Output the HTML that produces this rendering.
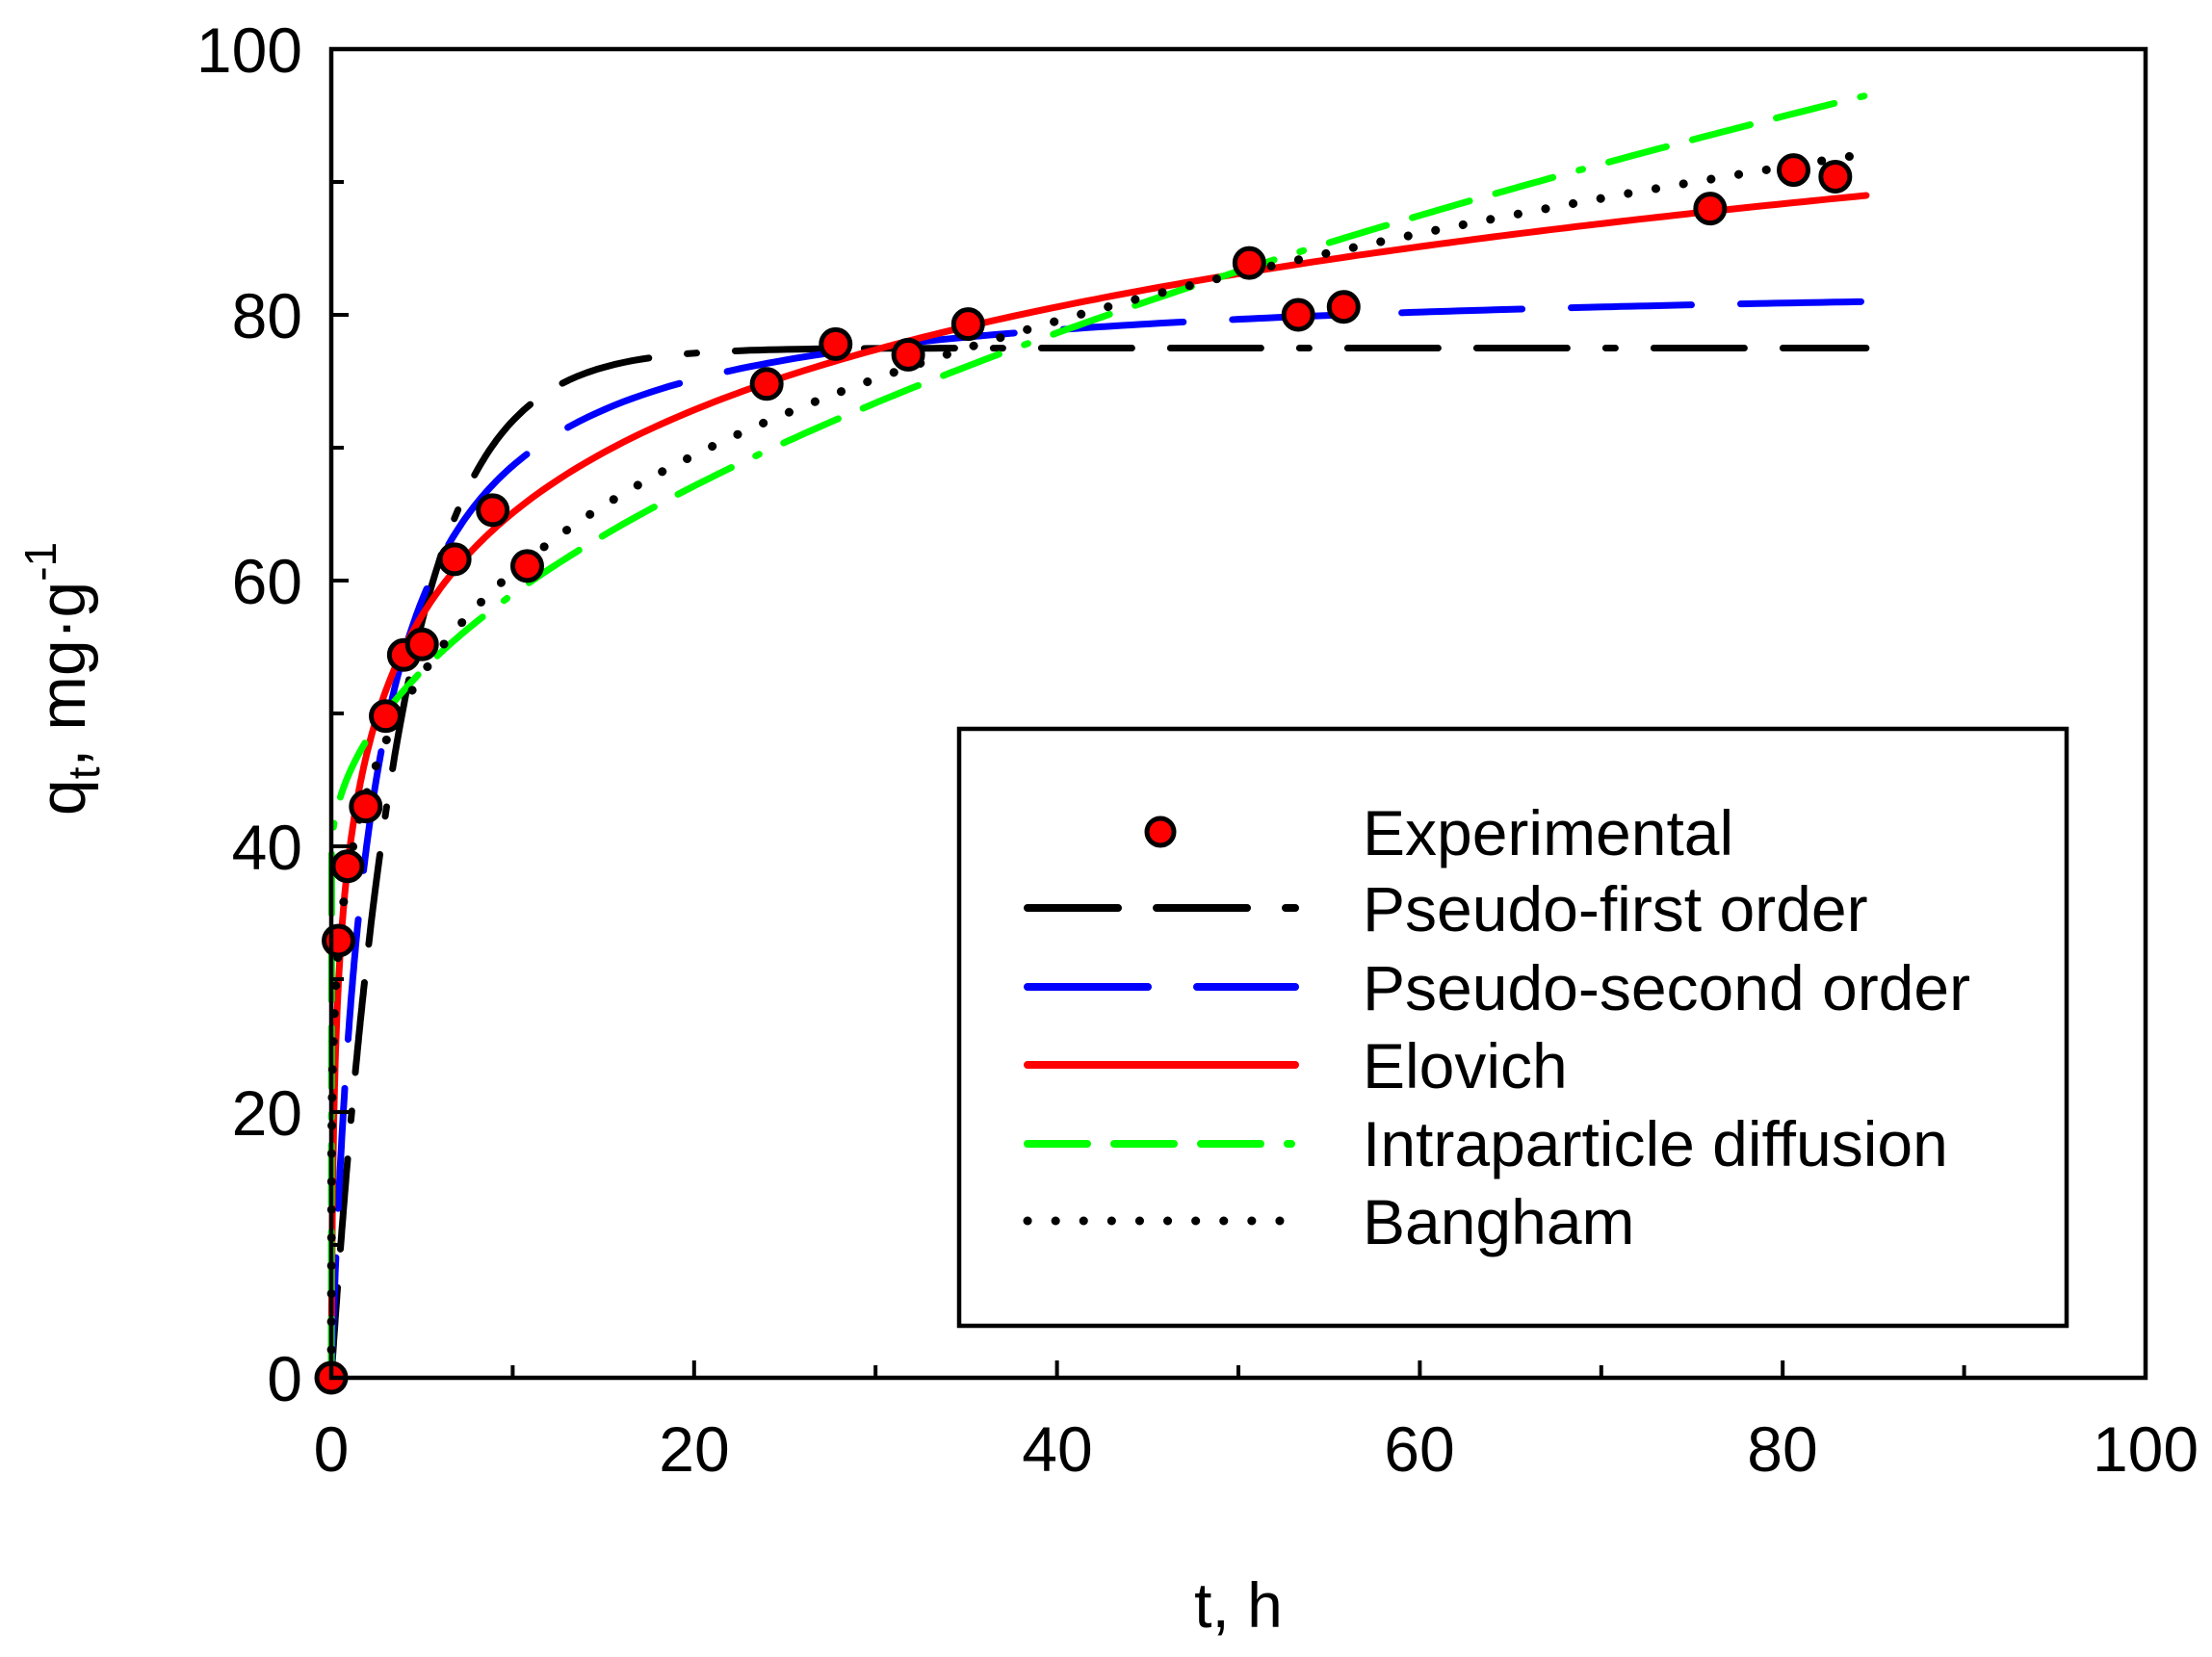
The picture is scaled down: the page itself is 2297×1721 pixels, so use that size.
<!DOCTYPE html>
<html><head><meta charset="utf-8"><style>
html,body{margin:0;padding:0;background:#fff;}
svg{display:block;font-family:"Liberation Sans",Arial,sans-serif;}
</style></head><body>
<svg id="s" width="2297" height="1721" viewBox="0 0 2297 1721" xmlns="http://www.w3.org/2000/svg">
<rect width="2297" height="1721" fill="#fff"/>
<g id="curves" fill="none" stroke-width="7" stroke-linecap="round" stroke-linejoin="round"></g>
<g id="pts"></g>
<rect x="344" y="51" width="1884" height="1380" fill="none" stroke="#000" stroke-width="4.5"/>
<g id="ticks" stroke="#000" stroke-width="4"></g>
<g font-size="66" fill="#000" text-anchor="end">
<text x="314" y="1455">0</text><text x="314" y="1179">20</text><text x="314" y="903">40</text>
<text x="314" y="627">60</text><text x="314" y="351">80</text><text x="314" y="75">100</text>
</g>
<g font-size="66" fill="#000" text-anchor="middle">
<text x="344" y="1528">0</text><text x="721" y="1528">20</text><text x="1098" y="1528">40</text>
<text x="1474" y="1528">60</text><text x="1851" y="1528">80</text><text x="2228" y="1528">100</text>
</g>
<text x="1286" y="1690" font-size="66" text-anchor="middle">t, h</text>
<g transform="translate(88,705) rotate(-90)"><text x="0" y="0" font-size="68" text-anchor="middle">q<tspan font-size="46" dy="15">t</tspan><tspan dy="-15">, mg·g</tspan><tspan font-size="46" dy="-30">-1</tspan></text></g>
<rect x="996" y="757" width="1150" height="620" fill="#fff" stroke="#000" stroke-width="4.5"/>
<g stroke-width="8" stroke-linecap="round" fill="none">
<line x1="1067" y1="943" x2="1345" y2="943" stroke="#000" stroke-dasharray="94 40 94 40 10 40"/>
<line x1="1067" y1="1025" x2="1345" y2="1025" stroke="#0000ff" stroke-dasharray="125 51"/>
<line x1="1067" y1="1106" x2="1345" y2="1106" stroke="#ff0000"/>
<line x1="1067" y1="1188" x2="1345" y2="1188" stroke="#00ff00" stroke-dasharray="62 28 62 28 62 28 4 28"/>
<line x1="1067" y1="1268" x2="1345" y2="1268" stroke="#000" stroke-width="9" stroke-dasharray="0.1 29"/>
</g>
<circle cx="1205" cy="864" r="14" fill="#ff0000" stroke="#000" stroke-width="5"/>
<g font-size="66" fill="#000">
<text x="1415" y="888">Experimental</text>
<text x="1415" y="967">Pseudo-first order</text>
<text x="1415" y="1049">Pseudo-second order</text>
<text x="1415" y="1130">Elovich</text>
<text x="1415" y="1211">Intraparticle diffusion</text>
<text x="1415" y="1292">Bangham</text>
</g>
<script>
var X=function(t){return 344+t*18.84},Y=function(q){return 1431-q*13.8};
var NS="http://www.w3.org/2000/svg";
function path(f,color,dash,w){var d="",ts=[];for(var t=0;t<=85.0001;t+=(t<2?0.02:(t<10?0.1:0.5)))ts.push(t);
ts.forEach(function(t,i){d+=(i?"L":"M")+X(t).toFixed(1)+" "+Y(f(t)).toFixed(1)});
var p=document.createElementNS(NS,"path");p.setAttribute("d",d);p.setAttribute("stroke",color);
if(dash)p.setAttribute("stroke-dasharray",dash);if(w)p.setAttribute("stroke-width",w);
document.getElementById("curves").appendChild(p);}
path(function(t){return 77.5*(1-Math.exp(-0.265*t))},"#000","94 40 94 40 10 40");
path(function(t){var a=0.478;return 83*a*t/(1+a*t)},"#0000ff","125 51");
path(function(t){return 11.2*Math.log(1+t/0.03)},"#ff0000");
path(function(t){return t<0.02?t/0.02*40:6.22*Math.sqrt(t)+39.3},"#00ff00","62 28 62 28 62 28 4 28");
path(function(t){return 38.6*Math.pow(t,0.196)},"#000","0.1 29",9);
var pts=[[0,0],[0.4,32.9],[0.9,38.5],[1.9,43],[3,49.8],[4,54.4],[5,55.2],[6.8,61.6],[8.9,65.3],[10.8,61.1],[24,74.8],[27.8,77.8],[31.8,77],[35.1,79.3],[50.6,83.9],[53.3,80],[55.8,80.6],[76,88],[80.6,90.9],[82.9,90.4]];
var g=document.getElementById("pts");
pts.forEach(function(p){var c=document.createElementNS(NS,"circle");c.setAttribute("cx",X(p[0]));c.setAttribute("cy",Y(p[1]));c.setAttribute("r",15);c.setAttribute("fill","#ff0000");c.setAttribute("stroke","#000");c.setAttribute("stroke-width",5);g.appendChild(c);});
var tk=document.getElementById("ticks");
function ln(a,b,c,d){var l=document.createElementNS(NS,"line");l.setAttribute("x1",a);l.setAttribute("y1",b);l.setAttribute("x2",c);l.setAttribute("y2",d);tk.appendChild(l);}
for(var v=10;v<100;v+=10){var L=(v%20==0)?18:13;ln(X(v),1431,X(v),1431-L);ln(344,Y(v),344+L,Y(v));}
</script>
</svg>
</body></html>
